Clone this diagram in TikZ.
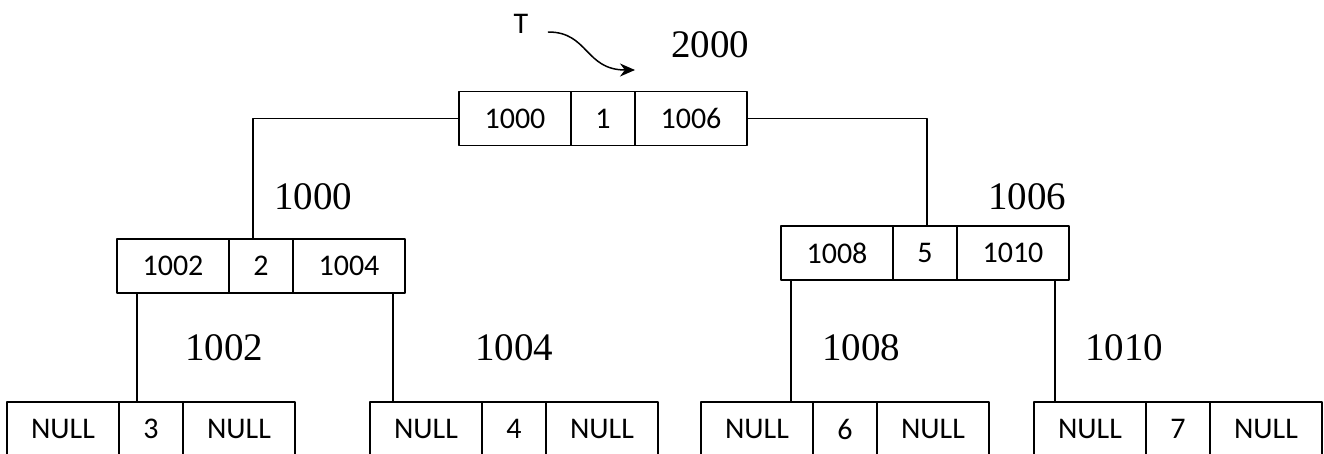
\documentclass[tikz,border=0pt]{standalone}
\usepackage{fontspec}
\usetikzlibrary{arrows.meta,positioning}

\newfontfamily\calibrifont{Carlito}
\newfontfamily\cambriafont{Liberation Serif}
\newcommand{\cellfont}{\calibrifont\fontsize{30}{34}\selectfont}
\newcommand{\addrfont}{\cambriafont\fontsize{39}{46}\selectfont}

\tikzset{
  cell/.style={draw, rectangle, outer sep=0pt, inner sep=0pt, minimum height=54, font=\cellfont},
  ptr/.style={cell, minimum width=112},
  dat/.style={cell, minimum width=64},
  addr/.style={font=\addrfont},
}

\begin{document}
\begin{tikzpicture}[>=Stealth, line cap=round, line join=round, x=1pt, y=-1pt, line width=1.5pt]

\useasboundingbox (0,0) rectangle (1324,453);
\clip (0,0) rectangle (1324,453);

% Radice
\node[ptr] (rootL) at (515,118.5) {1000};
\node[dat, right=0pt of rootL] (rootD) {1};
\node[ptr, right=0pt of rootD] (rootR) {1006};

% Figli
\node[ptr] (lfL) at (173,266) {1002};
\node[dat, right=0pt of lfL] (lfD) {2};
\node[ptr, right=0pt of lfD] (lfR) {1004};

\node[ptr] (rtL) at (837,253) {1008};
\node[dat, right=0pt of rtL] (rtD) {5};
\node[ptr, right=0pt of rtD] (rtR) {1010};

% Foglie
\node[ptr] (aL) at (63,429) {NULL};
\node[dat, right=0pt of aL] (aD) {3};
\node[ptr, right=0pt of aD] (aR) {NULL};

\node[ptr] (bL) at (426,429) {NULL};
\node[dat, right=0pt of bL] (bD) {4};
\node[ptr, right=0pt of bD] (bR) {NULL};

\node[ptr] (cL) at (757,429) {NULL};
\node[dat, right=0pt of cL] (cD) {6};
\node[ptr, right=0pt of cD] (cR) {NULL};

\node[ptr] (dL) at (1090,429) {NULL};
\node[dat, right=0pt of dL] (dD) {7};
\node[ptr, right=0pt of dD] (dR) {NULL};

% Collegamenti
\draw (rootL.west) -| ([xshift=-8pt]lfD.north);
\draw (rootR.east) -| ([xshift=2pt]rtD.north);
\draw ([xshift=20pt]lfL.south west) -- ([xshift=20pt]lfL.south west |- aD.north);
\draw ([xshift=-12pt]lfR.south east) -- ([xshift=-12pt]lfR.south east |- bD.north);
\draw ([xshift=10pt]rtL.south west) -- ([xshift=10pt]rtL.south west |- cD.north);
\draw ([xshift=-14pt]rtR.south east) -- ([xshift=-14pt]rtR.south east |- dD.north);

% Indirizzi
\node[addr] (a2000) at (710,45) {2000};
\node[addr] (a1000) at (313,197) {1000};
\node[addr] (a1006) at (1027,197) {1006};
\node[addr] (a1002) at (224,348) {1002};
\node[addr] (a1004) at (514,348) {1004};
\node[addr] (a1008) at (861,348) {1008};
\node[addr] (a1010) at (1124,348) {1010};

% Puntatore T
\node[font=\cellfont] (T) at (521,24) {T};
\coordinate (tip) at (635,70);
\draw[-{Stealth[length=15pt,width=13pt]}] ([xshift=16pt,yshift=-8pt]T.east)
    .. controls +(40,0) and +(-50,0) .. (tip);

\end{tikzpicture}
\end{document}
